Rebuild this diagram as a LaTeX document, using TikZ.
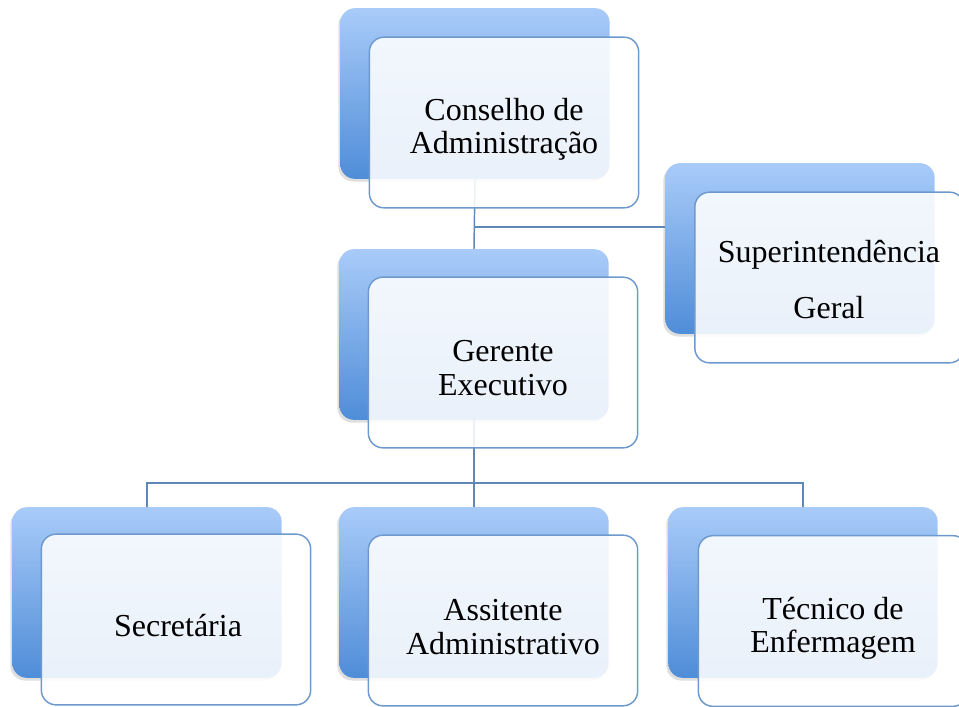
\documentclass[tikz,border=0pt]{standalone}
\usepackage{fontspec}
\setmainfont{Liberation Serif}
\usetikzlibrary{shadows}
\definecolor{boxtop}{HTML}{A9CBF9}
\definecolor{boxbot}{HTML}{4F8DD8}
\definecolor{boxline}{HTML}{6E99CC}
\definecolor{linkcol}{HTML}{5F87B8}
\begin{document}
\begin{tikzpicture}[x=0.75pt, y=-0.75pt,
    backbox/.style={rounded corners=11pt, minimum width=202pt, minimum height=128pt,
      top color=boxtop, bottom color=boxbot, draw=none,
      drop shadow={shadow xshift=-1.5pt, shadow yshift=-2pt, opacity=0.25}},
    frontbox/.style={rounded corners=11pt, minimum width=202pt, minimum height=128pt,
      draw=boxline, line width=1.1pt, fill=white, fill opacity=0.88},
    boxtext/.style={align=center, font=\fontsize{24}{25}\selectfont},
    link/.style={draw=linkcol, line width=1.1pt}]
  \useasboundingbox (0,0) rectangle (959,706);
  \clip (0,0) rectangle (959,706);

  % Caixas de fundo
  \node[backbox] (conselhoB) at (475,93.5) {};
  \node[backbox] (superB) at (800,248.5) {};
  \node[backbox] (gerenteB) at (474,334.5) {};
  \node[backbox] (secB) at (147,592.5) {};
  \node[backbox] (assistB) at (474,592.5) {};
  \node[backbox] (tecB) at (803,592.5) {};

  % Ligacoes
  \coordinate (topjoin) at (475,227);
  \coordinate (botjoin) at (474,483);
  \draw[link] (conselhoB.south) -- (gerenteB.north);
  \draw[link] (topjoin) -- (superB.west |- topjoin);
  \draw[link] (gerenteB.south) -- (botjoin);
  \draw[link] (secB.north) |- (botjoin) -| (tecB.north);
  \draw[link] (botjoin) -- (assistB.north);

  % Caixas da frente
  \node[frontbox] (conselho) at (504,122.5) {};
  \node[frontbox] (super) at (829.5,277.5) {};
  \node[frontbox] (gerente) at (503,362.5) {};
  \node[frontbox] (sec) at (176,619.5) {};
  \node[frontbox] (assist) at (503,620.5) {};
  \node[frontbox] (tec) at (833,621) {};

  % Textos
  \node[boxtext] (conselhoT) at (504,129) {Conselho de\\Administração};
  \node[boxtext] (superT) at (829,280) {Superintendência\\[17pt]Geral};
  \node[boxtext] (gerenteT) at (503,368) {Gerente\\Executivo};
  \node[boxtext] (secT) at (178,626) {Secretária};
  \node[boxtext] (assistT) at (503,627) {Assitente\\Administrativo};
  \node[boxtext] (tecT) at (833,628) {Técnico de\\Enfermagem};
\end{tikzpicture}
\end{document}
